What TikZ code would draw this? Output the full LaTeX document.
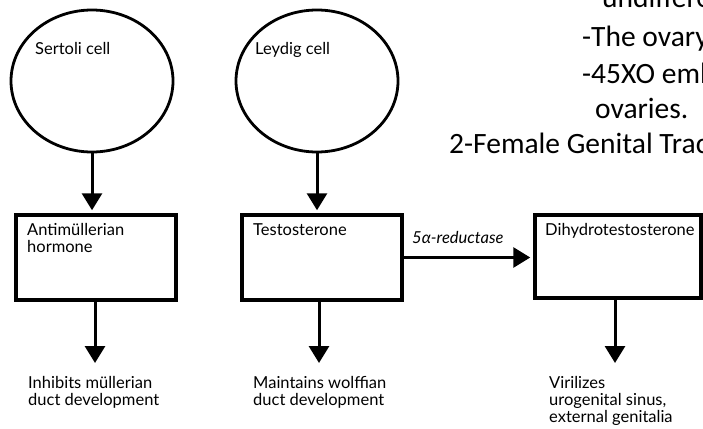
\documentclass[tikz,border=0pt]{standalone}
\usepackage{fontspec}
\setmainfont{Lato}
\newfontfamily\calib{Carlito}
\usetikzlibrary{arrows.meta,shapes.geometric}
\begin{document}
\begin{tikzpicture}[x=1pt,y=-1pt,
 cell/.style={draw,ellipse,line width=2.8pt,minimum width=162pt,minimum height=142pt,inner sep=0pt},
 hbox/.style={draw,rectangle,line width=3.5pt,inner sep=0pt},
 arr/.style={line width=3pt,-{Triangle[length=17pt,width=20pt]},shorten >=3pt},
 lbl/.style={anchor=base west,inner sep=0pt,align=left,font=\fontsize{16.5}{17}\selectfont},
 over/.style={anchor=base west,inner sep=0pt,font=\calib\fontsize{29.5}{33}\selectfont}]
\useasboundingbox (0,0) rectangle (703,428);
\clip (0,0) rectangle (703,428);
% cells
\node[cell] (c1) at (92,81) {};
\node[cell] (c2) at (317,81) {};
\node[lbl] (c1t) at (35,54) {Sertoli cell};
\node[lbl] (c2t) at (255,54) {Leydig cell};
% hormone boxes
\node[hbox,minimum width=160pt,minimum height=85pt] (b1) at (96,257.5) {};
\node[hbox,minimum width=160pt,minimum height=85pt] (b2) at (322,257.5) {};
\node[hbox,minimum width=166pt,minimum height=83pt] (b3) at (618,256.5) {};
\node[lbl] (b1t) at (27,252) {Antimüllerian\\hormone};
\node[lbl] (b2t) at (253,235) {Testosterone};
\node[lbl] (b3t) at (545,235) {Dihydrotestosterone};
\node[lbl,font=\itshape\fontsize{16.5}{17}\selectfont] (enz) at (412,243) {5α-reductase};
% outcomes
\node[lbl] (o1) at (28,405) {Inhibits müllerian\\duct development};
\node[lbl] (o2) at (253,405) {Maintains wolffian\\duct development};
\node[lbl] (o3) at (549,422) {Virilizes\\urogenital sinus,\\external genitalia};
\coordinate (e1) at (95,363);
\coordinate (e2) at (319,363);
\coordinate (e3) at (615,363);
% connectors
\draw[arr] (c1.south) -- (c1.south |- b1.north);
\draw[arr] (c2.south) -- (c2.south |- b2.north);
\draw[arr] (b2.east) -- (b2.east -| b3.west);
\draw[arr,shorten >=0pt] (b1.south -| e1) -- (e1);
\draw[arr,shorten >=0pt] (b2.south -| e2) -- (e2);
\draw[arr,shorten >=0pt] (b3.south -| e3) -- (e3);
% overlapping page text
\node[over] (w1) at (602,8) {undiffere};
\node[over] (w2) at (582,46) {-The ovary};
\node[over] (w3) at (582,83) {-45XO emb};
\node[over] (w4) at (595,118) {ovaries.};
\node[over] (w5) at (449,153) {2-Female Genital Trac};
\end{tikzpicture}
\end{document}
